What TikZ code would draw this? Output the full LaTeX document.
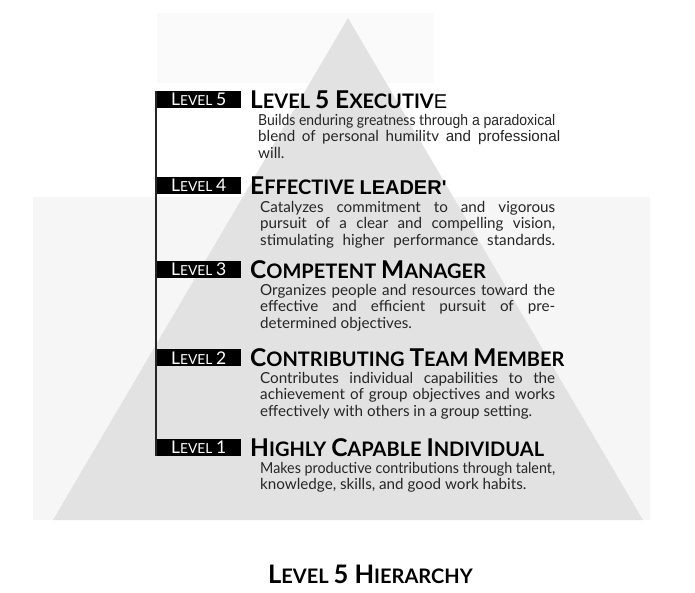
\documentclass[tikz,border=0pt]{standalone}
\usepackage{graphicx}
\usepackage{fontspec}
\setmainfont{Lato}
\newfontfamily\arialf{Liberation Sans}
\definecolor{pyr}{HTML}{E2E2E2}
\definecolor{bgfaint}{HTML}{F6F6F6}
\definecolor{bgtop}{HTML}{FAFAFA}
\definecolor{desctext}{HTML}{262626}
\newcommand\Lb{\fontsize{17.5}{19}\selectfont}
\newcommand\Ls{\fontsize{13.8}{15}\selectfont}
\newcommand\Hb{\fontsize{24.5}{26}\selectfont}
\newcommand\Hs{\fontsize{20}{22}\selectfont}
\newcommand\Tb{\fontsize{25.5}{27}\selectfont}
\newcommand\Ts{\fontsize{20}{22}\selectfont}
\newsavebox\jlbox
\newcommand\Jl[2]{\sbox\jlbox{#2}%
  \ifdim\wd\jlbox>#1\relax
    \scalebox{\fpeval{(#1)/(\the\wd\jlbox)}}[1]{\usebox\jlbox}%
  \else\makebox[#1][s]{#2}\fi\\}
\newcommand\Dsc[1]{\parbox[t]{330pt}{\fontsize{15.2}{16.8}\selectfont #1}}
\tikzset{
  lab/.style={fill=black, text=white, inner sep=0pt, minimum width=85pt,
    minimum height=17pt, anchor=north west},
  hd/.style={anchor=base west, inner sep=0pt, font=\bfseries},
  desc/.style={anchor=base west, inner sep=0pt, text=desctext},
  vline/.style={line width=1.3pt, black!85},
}
\begin{document}
\begin{tikzpicture}[x=1pt,y=-1pt]
\useasboundingbox (0,0) rectangle (695,592);
\fill[white] (0,0) rectangle (695,592);
\fill[bgtop] (157,13) rectangle (433,83);
\fill[bgfaint] (33,197) rectangle (650,520);
\fill[pyr] (348,18) -- (53,520) -- (643,520) -- cycle;

% level labels
\node[lab] (L5) at (156,91)  {\Lb L\Ls EVEL \Lb 5};
\node[lab] (L4) at (156,177) {\Lb L\Ls EVEL \Lb 4};
\node[lab] (L3) at (156,261) {\Lb L\Ls EVEL \Lb 3};
\node[lab] (L2) at (156,349) {\Lb L\Ls EVEL \Lb 2};
\node[lab] (L1) at (156,439) {\Lb L\Ls EVEL \Lb 1};
\draw[vline] (L5.north west) -- (L1.south west);

% headings
\node[hd] (h5) at (250,108) {\Hb L\Hs EVEL \Hb 5 E\Hs XECUTIV{\arialf\mdseries E}};
\node[hd] (h4) at (250,194) {\Hb E\Hs FFECTIVE {\arialf LEADER'}};
\node[hd] (h3) at (250,278) {\Hb C\Hs OMPETENT \Hb M\Hs ANAGER};
\node[hd] (h2) at (250,366) {\Hb C\Hs ONTRIBUTING \Hb T\Hs EAM \Hb M\Hs EMBER};
\node[hd] (h1) at (250,456) {\Hb H\Hs IGHLY \Hb C\Hs APABLE \Hb I\Hs NDIVIDUAL};

% descriptions
\node[desc] (d5) at (258,125) {\Dsc{%
  \Jl{297pt}{Builds enduring greatness thr{\arialf ough a paradoxical}}
  \Jl{302pt}{blend of personal humilitv {\arialf and professional}}
  will.}};
\node[desc] (d4) at (260,212) {\Dsc{%
  \Jl{295pt}{Catalyzes commitment to and vigorous}
  \Jl{295pt}{pursuit of a clear and compelling vision,}
  \Jl{295pt}{stimulating higher performance standards.}}};
\node[desc] (d3) at (260,295) {\Dsc{%
  \Jl{295pt}{Organizes people and resources toward the}
  \Jl{295pt}{effective and efficient pursuit of pre-}
  determined objectives.}};
\node[desc] (d2) at (260,383) {\Dsc{%
  \Jl{295pt}{Contributes individual capabilities to the}
  \Jl{295pt}{achievement of group objectives and works}
  effectively with others in a group setting.}};
\node[desc] (d1) at (260,473) {\Dsc{%
  \Jl{295pt}{Makes productive contributions through talent,}
  knowledge, skills, and good work habits.}};

% title
\node[hd] (title) at (268,583) {\Tb L\Ts EVEL \Tb 5 H\Ts IERARCHY};
\end{tikzpicture}
\end{document}
